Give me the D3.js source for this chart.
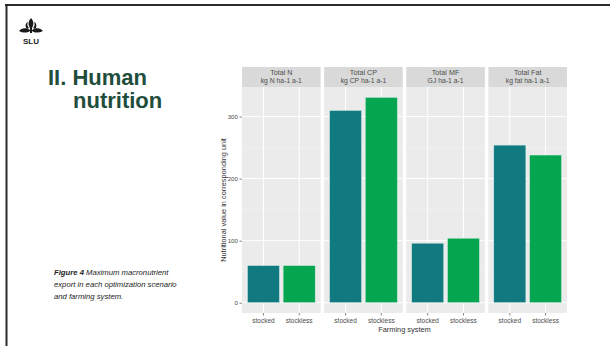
<!DOCTYPE html>
<html>
<head>
<meta charset="utf-8">
<script src="https://cdn.jsdelivr.net/npm/d3@7/dist/d3.min.js"></script>
<style>
  html, body { margin: 0; padding: 0; background: #fff; }
  svg { display: block; font-family: "Liberation Sans", Arial, sans-serif; }
</style>
</head>
<body>
<svg id="slide" width="610" height="346"></svg>
<script>
// Nutrient panels (facets) and their unit lines
const nutrients = ["Total N", "Total CP", "Total MF", "Total Fat"];
const units = ["kg N ha-1 a-1", "kg CP ha-1 a-1", "GJ ha-1 a-1", "kg fat ha-1 a-1"];
const systems = ["stocked", "stockless"];
// Maximum export per nutrient, for stocked and stockless farms
const stockedValues = [60, 310, 96, 254];
const stocklessValues = [60, 331, 104, 238];
const yTicks = [0, 100, 200, 300];
const yMinor = [50, 150, 250];

const svg = d3.select("#slide");

// slide frame
svg.append("line").attr("x1", 5).attr("x2", 610).attr("y1", 5).attr("y2", 5)
  .attr("stroke", "#2b2b2b").attr("stroke-width", 2);
svg.append("line").attr("x1", 6.5).attr("x2", 6.5).attr("y1", 4).attr("y2", 346)
  .attr("stroke", "#2b2b2b").attr("stroke-width", 2);

// SLU logo
const logo = svg.append("g").attr("transform", "translate(31,27)").attr("fill", "#1a1a1a");
logo.append("path").attr("d", "M0,-9 C-3,-6 -3,-2 -1,1 L-1,6 L1,6 L1,1 C3,-2 3,-6 0,-9 Z");
logo.append("path").attr("d", "M-1,3 C-5,0 -10,1 -12,4 C-8,6 -4,6 -1,4 Z");
logo.append("path").attr("d", "M1,3 C5,0 10,1 12,4 C8,6 4,6 1,4 Z");
logo.append("path").attr("d", "M-3,-5 C-6,-4 -6,0 -4,2 L-2,1 C-4,-1 -4,-3 -3,-5 Z");
logo.append("path").attr("d", "M3,-5 C6,-4 6,0 4,2 L2,1 C4,-1 4,-3 3,-5 Z");
logo.append("text").attr("x", 0).attr("y", 17).attr("text-anchor", "middle")
  .attr("font-size", 8).attr("font-weight", "bold").attr("fill", "#1a1a1a").text("SLU");

// slide title
const titleColor = "#1f4d3c";
svg.append("text").attr("x", 48).attr("y", 85).attr("font-size", 22).attr("font-weight", "bold")
  .attr("fill", titleColor).text("II. Human");
svg.append("text").attr("x", 73).attr("y", 108).attr("font-size", 22).attr("font-weight", "bold")
  .attr("fill", titleColor).text("nutrition");

// figure caption
const cap = svg.append("g").attr("font-size", 7.7).attr("font-style", "italic").attr("fill", "#222");
const l1 = cap.append("text").attr("x", 54).attr("y", 275);
l1.append("tspan").attr("font-weight", "bold").text("Figure 4");
l1.append("tspan").text(" Maximum macronutrient");
cap.append("text").attr("x", 54).attr("y", 287).text("export in each optimization scenario");
cap.append("text").attr("x", 54).attr("y", 299).text("and farming system.");

// chart layout
const panelLeft = 242, panelRight = 567, panelGap = 3.5;
const stripTop = 67, stripH = 20, plotTop = 87, plotBottom = 313;
const panelW = (panelRight - panelLeft - panelGap * (nutrients.length - 1)) / nutrients.length;

const y = d3.scaleLinear().domain([-16.55, 347.55]).range([plotBottom, plotTop]);
const colors = { stocked: "#117a80", stockless: "#06a550" };
const gridText = "#4d4d4d";

nutrients.forEach((name, i) => {
  const x0 = panelLeft + i * (panelW + panelGap);
  // discrete position: category centers spaced by 1 unit, 0.6 unit expansion each side
  const x = d3.scalePoint().domain(systems).range([x0 + 0.6 * panelW / 2.2, x0 + 1.6 * panelW / 2.2]);
  const barW = 0.9 * panelW / 2.2;

  const g = svg.append("g");
  // strip
  g.append("rect").attr("x", x0).attr("y", stripTop).attr("width", panelW).attr("height", stripH).attr("fill", "#d9d9d9");
  g.append("text").attr("x", x0 + panelW / 2).attr("y", stripTop + 8.3).attr("text-anchor", "middle")
    .attr("font-size", 7.2).attr("fill", gridText).text(name);
  g.append("text").attr("x", x0 + panelW / 2).attr("y", stripTop + 16.3).attr("text-anchor", "middle")
    .attr("font-size", 6.8).attr("fill", gridText).text(units[i]);
  // panel background and grid
  g.append("rect").attr("x", x0).attr("y", plotTop).attr("width", panelW).attr("height", plotBottom - plotTop).attr("fill", "#ebebeb");
  g.selectAll(".minor").data(yMinor).enter().append("line")
    .attr("x1", x0).attr("x2", x0 + panelW).attr("y1", d => y(d)).attr("y2", d => y(d))
    .attr("stroke", "#f6f6f6").attr("stroke-width", 0.5);
  g.selectAll(".major").data(yTicks).enter().append("line")
    .attr("x1", x0).attr("x2", x0 + panelW).attr("y1", d => y(d)).attr("y2", d => y(d))
    .attr("stroke", "#fff").attr("stroke-width", 1);
  g.selectAll(".vgrid").data(systems).enter().append("line")
    .attr("x1", d => x(d)).attr("x2", d => x(d)).attr("y1", plotTop).attr("y2", plotBottom)
    .attr("stroke", "#fff").attr("stroke-width", 1);
  // bars
  const vals = [stockedValues[i], stocklessValues[i]];
  g.selectAll(".bar").data(systems).enter().append("rect")
    .attr("x", d => x(d) - barW / 2).attr("width", barW)
    .attr("y", (d, j) => y(vals[j])).attr("height", (d, j) => y(0) - y(vals[j]))
    .attr("fill", d => colors[d]).attr("stroke", "#d8ece8").attr("stroke-width", 0.6);
  // x ticks and labels
  systems.forEach(s => {
    g.append("line").attr("x1", x(s)).attr("x2", x(s)).attr("y1", plotBottom).attr("y2", plotBottom + 2.5)
      .attr("stroke", "#333").attr("stroke-width", 0.6);
    g.append("text").attr("x", x(s)).attr("y", plotBottom + 10).attr("text-anchor", "middle")
      .attr("font-size", 6.5).attr("fill", gridText).text(s);
  });
});

// y axis on the first panel
const yAxis = d3.axisLeft(y).tickValues(yTicks).tickSize(2.5).tickPadding(1.5);
const ya = svg.append("g").attr("transform", `translate(${panelLeft},0)`).call(yAxis);
ya.select(".domain").remove();
ya.selectAll(".tick line").attr("stroke", "#333").attr("stroke-width", 0.6);
ya.selectAll(".tick text").attr("font-size", 6.2).attr("fill", gridText).attr("font-family", "Liberation Sans, Arial, sans-serif");

// axis titles
svg.append("text").attr("transform", `translate(226,${(plotTop + plotBottom) / 2}) rotate(-90)`)
  .attr("text-anchor", "middle").attr("font-size", 7.4).attr("fill", "#333")
  .text("Nutritional value in corresponding unit");
svg.append("text").attr("x", (panelLeft + panelRight) / 2).attr("y", plotBottom + 18.5)
  .attr("text-anchor", "middle").attr("font-size", 7.4).attr("fill", "#333").text("Farming system");
</script>
</body>
</html>
